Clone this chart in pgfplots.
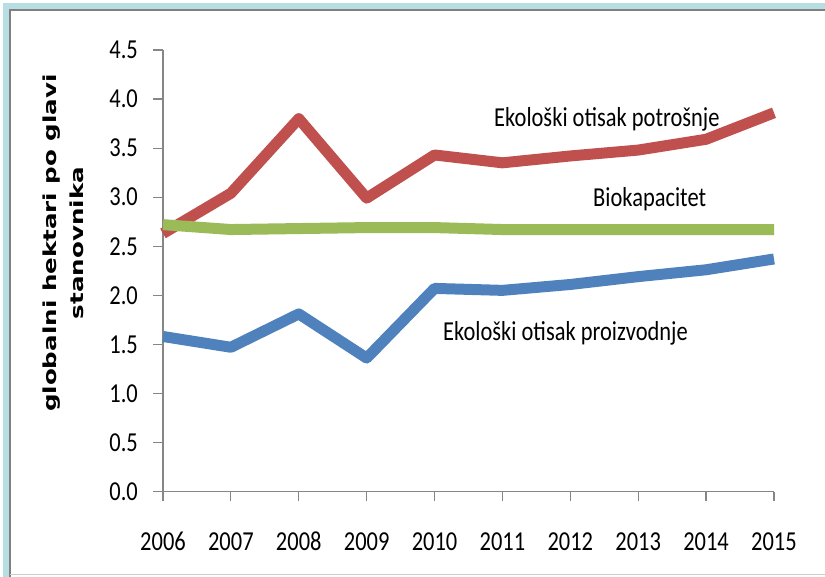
\documentclass[border=0pt]{standalone}
\usepackage{pgfplots}
\pgfplotsset{compat=1.18}
\usepackage{fontspec}
\setmainfont{Carlito}[FakeStretch=0.82]
\newfontfamily\labelfont{DejaVu Sans}[UprightFont={* Bold}, FakeStretch=1.37]
\definecolor{potr}{HTML}{C0504D}
\definecolor{bio}{HTML}{9BBB59}
\definecolor{proiz}{HTML}{4F81BD}
\definecolor{framebl}{RGB}{183,222,226}
\definecolor{axgray}{RGB}{134,134,134}

\begin{document}
\begin{tikzpicture}
  % page frame
  \path[use as bounding box] (0bp,0bp) rectangle (825bp,577bp);
  \fill[framebl] (3bp,0bp) rectangle (9bp,574bp);
  \fill[framebl] (3bp,568bp) rectangle (825bp,574bp);
  \draw[gray, line width=2bp] (10.3bp,0bp) -- (10.3bp,566.5bp) -- (825bp,566.5bp);
  \draw[black!20, line width=1bp] (10bp,2bp) -- (825bp,2bp);

  \begin{axis}[
      at={(163bp,85.5bp)}, anchor=south west,
      scale only axis,
      width=611bp, height=441.5bp,
      xmin=2006, xmax=2015,
      ymin=0, ymax=4.5,
      xtick={2006,2007,...,2015},
      ytick={0,0.5,...,4.5},
      axis lines=left,
      axis line style={axgray, line width=1.2bp, -},
      tick style={axgray, line width=1.2bp},
      tick align=outside,
      major tick length=10bp,
      clip=false,
      tick label style={font=\fontsize{27.5}{30}\selectfont},
      /pgf/number format/assume math mode=true,
      xticklabel style={anchor=base, inner sep=0pt, yshift=-48.5bp,
        /pgf/number format/1000 sep={}},
      yticklabel style={anchor=east, inner sep=0pt, xshift=-15bp,
        /pgf/number format/.cd, fixed, fixed zerofill, precision=1},
      every axis plot/.append style={line width=11bp, line join=round, line cap=butt, no markers},
    ]
    \addplot[proiz] coordinates {
      (2006,1.58) (2007,1.47) (2008,1.81) (2009,1.36) (2010,2.07)
      (2011,2.05) (2012,2.11) (2013,2.19) (2014,2.26) (2015,2.37)
    };
    \addplot[potr] coordinates {
      (2006,2.63) (2007,3.04) (2008,3.80) (2009,2.99) (2010,3.43)
      (2011,3.35) (2012,3.42) (2013,3.48) (2014,3.59) (2015,3.86)
    };
    \addplot[bio] coordinates {
      (2006,2.72) (2007,2.67) (2008,2.68) (2009,2.69) (2010,2.69)
      (2011,2.67) (2012,2.67) (2013,2.67) (2014,2.67) (2015,2.67)
    };
    \node[anchor=base west, inner sep=0pt, font=\fontsize{27.5}{30}\selectfont]
      at (axis cs:2010.876,3.725) {Ekološki otisak potrošnje};
    \node[anchor=base west, inner sep=0pt, font=\fontsize{27.5}{30}\selectfont]
      at (axis cs:2012.334,2.90) {Biokapacitet};
    \node[anchor=base west, inner sep=0pt, font=\fontsize{27.5}{30}\selectfont]
      at (axis cs:2010.124,1.544) {Ekološki otisak proizvodnje};
  \end{axis}

  \node[rotate=90, align=center, inner sep=0pt,
        font=\labelfont\fontsize{18}{27}\selectfont]
    at (63bp,334bp) {globalni hektari po glavi\\stanovnika};
\end{tikzpicture}
\end{document}
